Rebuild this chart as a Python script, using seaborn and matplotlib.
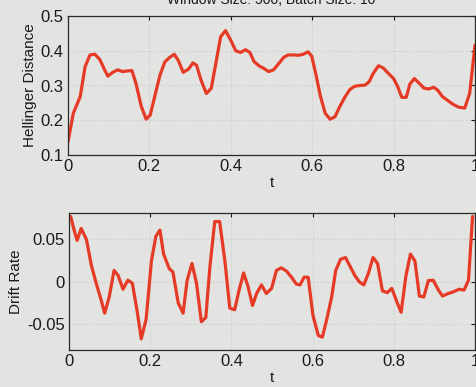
import numpy as np
import pandas as pd
import seaborn as sns
import matplotlib
matplotlib.use("Agg")
import matplotlib.pyplot as plt

t_top = [0.0, 0.013, 0.03, 0.042, 0.054, 0.066, 0.078, 0.09, 0.098, 0.11, 0.122, 0.134, 0.146, 0.157,
         0.167, 0.18, 0.192, 0.202, 0.213, 0.226, 0.238, 0.25, 0.261, 0.271, 0.283, 0.296, 0.307, 0.316,
         0.327, 0.34, 0.352, 0.363, 0.375, 0.387, 0.4, 0.412, 0.424, 0.436, 0.447, 0.457, 0.47, 0.48,
         0.493, 0.505, 0.517, 0.53, 0.541, 0.554, 0.566, 0.578, 0.59, 0.599, 0.61, 0.62, 0.632, 0.644,
         0.656, 0.668, 0.681, 0.693, 0.705, 0.717, 0.73, 0.74, 0.75, 0.763, 0.775, 0.787, 0.8, 0.81,
         0.82, 0.831, 0.84, 0.851, 0.864, 0.875, 0.887, 0.898, 0.908, 0.92, 0.934, 0.946, 0.959, 0.975,
         0.987, 1.0]
hellinger = [0.138, 0.22, 0.268, 0.354, 0.388, 0.39, 0.375, 0.345, 0.327, 0.338, 0.345, 0.34, 0.342, 0.343,
             0.306, 0.24, 0.203, 0.215, 0.268, 0.33, 0.368, 0.381, 0.39, 0.372, 0.338, 0.347, 0.365, 0.358,
             0.315, 0.277, 0.292, 0.362, 0.44, 0.458, 0.43, 0.40, 0.395, 0.403, 0.395, 0.369, 0.356, 0.35,
             0.34, 0.345, 0.362, 0.381, 0.388, 0.388, 0.387, 0.39, 0.397, 0.384, 0.327, 0.27, 0.22, 0.203,
             0.21, 0.24, 0.268, 0.289, 0.298, 0.3, 0.301, 0.311, 0.335, 0.357, 0.35, 0.335, 0.32, 0.297,
             0.266, 0.266, 0.304, 0.32, 0.305, 0.292, 0.29, 0.295, 0.287, 0.268, 0.256, 0.246, 0.238, 0.235,
             0.278, 0.416]

t_bot = [0.004, 0.012, 0.02, 0.03, 0.043, 0.055, 0.067, 0.08, 0.088, 0.099, 0.111, 0.121, 0.133, 0.145,
         0.156, 0.168, 0.178, 0.19, 0.203, 0.214, 0.224, 0.233, 0.247, 0.256, 0.269, 0.281, 0.291, 0.303,
         0.314, 0.326, 0.337, 0.347, 0.359, 0.371, 0.384, 0.396, 0.408, 0.419, 0.43, 0.441, 0.452, 0.462,
         0.474, 0.486, 0.499, 0.511, 0.523, 0.536, 0.548, 0.56, 0.569, 0.579, 0.589, 0.601, 0.614, 0.624,
         0.634, 0.647, 0.657, 0.669, 0.681, 0.692, 0.704, 0.715, 0.726, 0.737, 0.749, 0.76, 0.772, 0.784,
         0.795, 0.807, 0.818, 0.83, 0.841, 0.852, 0.863, 0.874, 0.885, 0.897, 0.91, 0.92, 0.934, 0.947,
         0.961, 0.973, 0.984, 0.994]
drift = [0.076, 0.061, 0.048, 0.062, 0.049, 0.019, -0.002, -0.023, -0.037, -0.018, 0.013, 0.007, -0.009, 0.0015,
         -0.002, -0.035, -0.067, -0.044, 0.024, 0.053, 0.06, 0.032, 0.015, 0.011, -0.025, -0.037, 0.0015, 0.021,
         -0.002, -0.047, -0.042, 0.017, 0.07, 0.07, 0.024, -0.031, -0.033, -0.01, 0.01, -0.006, -0.028, -0.014,
         -0.004, -0.014, -0.008, 0.013, 0.016, 0.012, 0.005, -0.003, -0.004, 0.005, 0.005, -0.04, -0.063, -0.065,
         -0.046, -0.018, 0.013, 0.026, 0.028, 0.018, 0.007, -0.0004, -0.004, 0.009, 0.028, 0.021, -0.011, -0.013,
         -0.008, -0.023, -0.036, 0.007, 0.032, 0.024, -0.017, -0.018, 0.001, 0.0015, -0.01, -0.017, -0.014, -0.012,
         -0.009, -0.01, 0.0015, 0.076]

title = "Window Size: 500, Batch Size: 10"
bg = "#e3e3e1"
line_color = "#e53b26"

sns.set_theme(style="white")
plt.rcParams['font.family'] = ['Liberation Sans', 'DejaVu Sans']

fig = plt.figure(figsize=(4.77, 3.87), dpi=100, facecolor=bg)
ax1 = fig.add_axes([68/477, (387-155)/387, 407/477, 139/387])
ax2 = fig.add_axes([69/477, (387-350)/387, 406/477, 137/387])

df1 = pd.DataFrame({"t": t_top, "v": hellinger})
df2 = pd.DataFrame({"t": t_bot, "v": drift})
sns.lineplot(data=df1, x="t", y="v", ax=ax1, color=line_color, linewidth=2.3)
sns.lineplot(data=df2, x="t", y="v", ax=ax2, color=line_color, linewidth=2.3)

for ax in (ax1, ax2):
    ax.set_facecolor(bg)
    ax.set_xlim(0, 1)
    ax.set_xticks([0, 0.2, 0.4, 0.6, 0.8, 1])
    ax.set_xticklabels(["0", "0.2", "0.4", "0.6", "0.8", "1"])
    ax.grid(True, linestyle=":", color="#c4ccd0", linewidth=0.8)
    ax.tick_params(direction="in", top=True, right=True, length=3, width=0.8,
                   labelsize=12, colors="#1a1a1a", pad=3)
    for s in ax.spines.values():
        s.set_color("#2a2a2a")
        s.set_linewidth(0.9)
    ax.set_xlabel("t", fontsize=11, labelpad=1, color="#1a1a1a")

ax1.set_ylim(0.1, 0.5)
ax1.set_yticks([0.1, 0.2, 0.3, 0.4, 0.5])
ax1.set_yticklabels(["0.1", "0.2", "0.3", "0.4", "0.5"])
ax1.set_ylabel("Hellinger Distance", fontsize=11, labelpad=3, color="#1a1a1a")

ax2.set_ylim(-0.08, 0.08)
ax2.set_yticks([-0.05, 0, 0.05])
ax2.set_yticklabels(["-0.05", "0", "0.05"])
ax2.set_ylabel("Drift Rate", fontsize=11, labelpad=3, color="#1a1a1a")

fig.text(271/477, 1 - 3.5/387, title, ha="center", va="baseline", fontsize=10, color="#1a1a1a")

fig.savefig("out.png", dpi=100, facecolor=bg)
